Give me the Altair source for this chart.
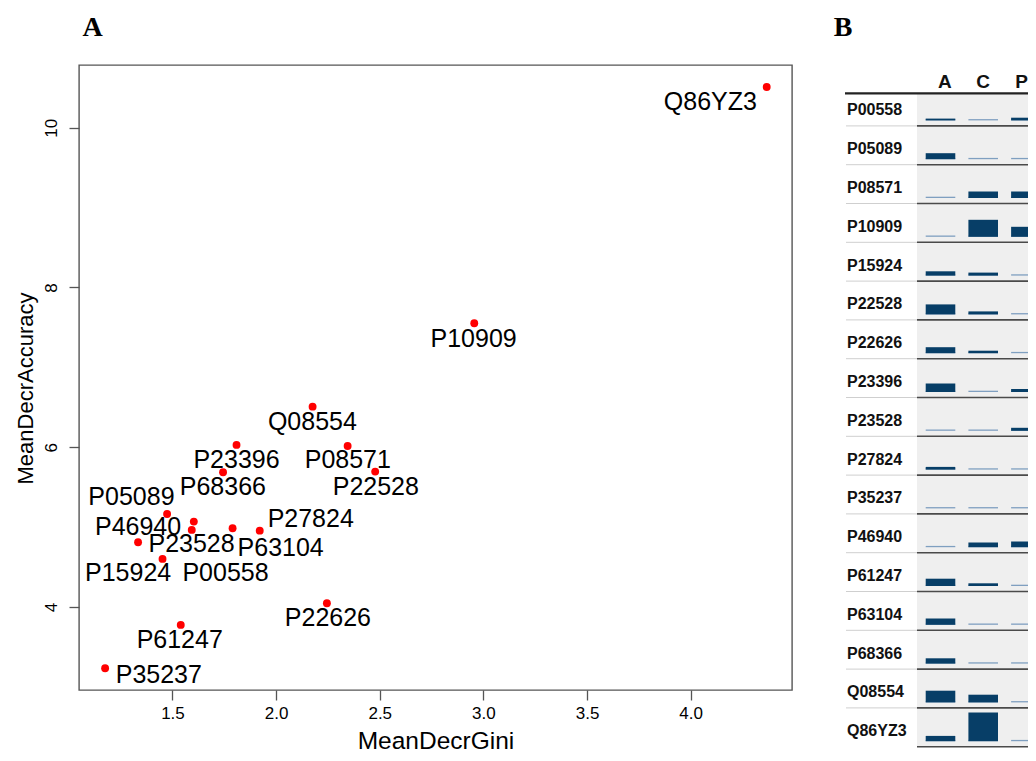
import altair as alt
import pandas as pd

# ---------------- data ----------------
proteins = ["P00558", "P05089", "P08571", "P10909", "P15924", "P22528", "P22626",
            "P23396", "P23528", "P27824", "P35237", "P46940", "P61247", "P63104",
            "P68366", "Q08554", "Q86YZ3"]

mean_decr_gini = [1.603, 1.474, 2.345, 2.956, 1.452, 2.478, 2.245,
                  1.809, 1.593, 1.921, 1.175, 1.334, 1.540, 1.790,
                  1.744, 2.176, 4.367]
mean_decr_accuracy = [5.069, 5.165, 6.016, 7.552, 4.602, 5.695, 4.047,
                      6.029, 4.965, 4.956, 3.234, 4.811, 3.776, 4.986,
                      5.687, 6.508, 10.51]
# where each text label sits (data units)
label_gini = [1.756, 1.302, 2.346, 2.953, 1.286, 2.481, 2.250,
              1.809, 1.592, 2.167, 1.434, 1.334, 1.535, 2.022,
              1.743, 2.175, 4.095]
label_accuracy = [4.423, 5.382, 5.841, 7.352, 4.423, 5.503, 3.860,
                  5.841, 4.790, 5.099, 3.150, 5.006, 3.588, 4.736,
                  5.499, 6.320, 10.32]

x_ticks = [1.5, 2.0, 2.5, 3.0, 3.5, 4.0]
y_ticks = [4, 6, 8, 10]

# panel B: relative bar heights per column
columns = ["A", "C", "P"]
values_A = [1.8, 6.0, 0, 0, 4.3, 10.0, 6.0, 8.5, 0, 2.7, 0, 0, 7.3, 6.3, 5.3, 11.7, 5.3]
values_C = [0, 0, 6.5, 17.0, 3.0, 3.0, 2.5, 0, 0, 0, 0, 4.7, 2.7, 0, 0, 7.7, 28.7]
values_P = [2.7, 0, 6.5, 10.0, 0, 0, 0, 3.0, 3.0, 0, 0, 5.7, 0, 0, 0, 0, 0]

# ---------------- tables ----------------
df_pts = pd.DataFrame({"protein": proteins, "gini": mean_decr_gini, "acc": mean_decr_accuracy,
                       "lx": label_gini, "ly": label_accuracy})

n = len(proteins)
df_rows = pd.DataFrame({"protein": proteins, "idx": list(range(n))})
cell_rows = []
for col, vals in zip(columns, [values_A, values_C, values_P]):
    for i, (p, v) in enumerate(zip(proteins, vals)):
        cell_rows.append({"protein": p, "idx": i, "col": col, "value": v})
df_cells = pd.DataFrame(cell_rows)
df_cols = pd.DataFrame({"col": columns})
df_frame = pd.DataFrame({"bottom": [n]})
df_sep = pd.DataFrame({"b": list(range(1, n + 1))})
df_sep_lab = pd.DataFrame({"b": list(range(1, n))})

ROW_PX = 38.8           # pixels per table row
GAP = 5.5 / ROW_PX      # gap between bar baseline and row line
THIN = 1.3 / ROW_PX

FONT = "Liberation Sans"

xs = alt.Scale(domain=[1.049, 4.489], nice=False, zero=False)
ys = alt.Scale(domain=[2.961, 10.785], nice=False, zero=False)

points = alt.Chart(df_pts).mark_circle(size=62, color="#ff0000", opacity=1).encode(
    x=alt.X("gini:Q", scale=xs, axis=alt.Axis(
        values=x_ticks, format=".1f", title="MeanDecrGini", grid=False, domain=False,
        tickSize=10, tickColor="#555555", tickWidth=1.3, labelFontSize=17,
        labelPadding=5, titleFontSize=24.5, titlePadding=8, titleFontWeight="normal",
        labelFont=FONT, titleFont=FONT, labelColor="#000", titleColor="#000")),
    y=alt.Y("acc:Q", scale=ys, axis=alt.Axis(
        values=y_ticks, format="d", title="MeanDecrAccuracy", grid=False, domain=False,
        tickSize=10, tickColor="#555555", tickWidth=1.3, labelFontSize=17,
        labelAngle=270, labelAlign="center", labelBaseline="alphabetic", labelPadding=13,
        titleFontSize=22, titlePadding=5, titleY=323, titleFontWeight="normal",
        labelFont=FONT, titleFont=FONT, labelColor="#000", titleColor="#000")),
)

labels = alt.Chart(df_pts).mark_text(fontSize=25, font=FONT, color="#000",
                                      align="center", baseline="middle").encode(
    x=alt.X("lx:Q", scale=xs, axis=None),
    y=alt.Y("ly:Q", scale=ys, axis=None),
    text="protein:N",
)

# ---------------- panel B ----------------
by = alt.Scale(domain=[0, n], range=[22.1, 681.7], nice=False, zero=False)
bx = alt.Scale(domain=columns, range=[846.7, 961.7], paddingInner=0.307, paddingOuter=0)

X_LAB0, X_BAR0, X_END = 766, 838, 980
Y_HEAD = 28.3

bg = alt.Chart(df_frame).mark_rect(color="#efefef").encode(
    x=alt.value(X_BAR0), x2=alt.value(X_END),
    y=alt.Y("bottom:Q", scale=by, axis=None), y2=alt.value(Y_HEAD))

sep_lab = alt.Chart(df_sep_lab).mark_rule(color="#cfcfcf", strokeWidth=1).encode(
    x=alt.value(X_LAB0 + 1), x2=alt.value(X_BAR0),
    y=alt.Y("b:Q", scale=by, axis=None))

sep_bar = alt.Chart(df_sep).mark_rule(color="#4a4a4a", strokeWidth=1.6).encode(
    x=alt.value(X_BAR0), x2=alt.value(X_END),
    y=alt.Y("b:Q", scale=by, axis=None))

head_line = alt.Chart(df_frame).mark_rule(color="#222", strokeWidth=2.2).encode(
    x=alt.value(X_LAB0), x2=alt.value(X_END), y=alt.value(Y_HEAD))

thin = alt.Chart(df_cells).transform_calculate(
    base=f"datum.idx + 1 - {GAP}", top=f"datum.idx + 1 - {GAP} - {THIN}"
).mark_rect(color="#7f9fc0").encode(
    x=alt.X("col:N", scale=bx, axis=None),
    y=alt.Y("top:Q", scale=by, axis=None), y2="base:Q")

bars = alt.Chart(df_cells).transform_filter("datum.value > 0").transform_calculate(
    base=f"datum.idx + 1 - {GAP}", top=f"datum.idx + 1 - {GAP} - datum.value / {ROW_PX}"
).mark_rect(color="#073e67").encode(
    x=alt.X("col:N", scale=bx, axis=None),
    y=alt.Y("top:Q", scale=by, axis=None), y2="base:Q")

row_text = alt.Chart(df_rows).transform_calculate(mid="datum.idx + 0.6").mark_text(
    align="left", baseline="middle", fontSize=16, fontWeight="bold", font=FONT, color="#111"
).encode(x=alt.value(X_LAB0 + 2), y=alt.Y("mid:Q", scale=by, axis=None), text="protein:N")

head_text = alt.Chart(df_cols).mark_text(
    align="center", baseline="middle", fontSize=19, fontWeight="bold", font=FONT, color="#111"
).encode(x=alt.X("col:N", scale=bx, axis=None), y=alt.value(16.7), text="col:N")

panel_letters = alt.Chart(pd.DataFrame({"t": ["A", "B"], "px": [13.5, 764]})).mark_text(
    align="center", baseline="alphabetic", fontSize=28, fontWeight="bold",
    font="Liberation Serif", color="#000"
).encode(x=alt.X("px:Q", scale=alt.Scale(domain=[0, 713], range=[0, 713]), axis=None),
         y=alt.value(-29.3), text="t:N")

chart = alt.layer(
    points, labels, bg, sep_lab, sep_bar, head_line, thin, bars, row_text, head_text, panel_letters
).resolve_scale(x="independent", y="independent").properties(
    width=713, height=625,
    autosize=alt.AutoSizeParams(type="none"),
    padding={"left": 71, "top": 57, "right": 236, "bottom": 63},
    background="white",
).configure_view(stroke="#555555", strokeWidth=1.4)

chart.save("out.html", embed_options={"renderer": "svg", "actions": False})
